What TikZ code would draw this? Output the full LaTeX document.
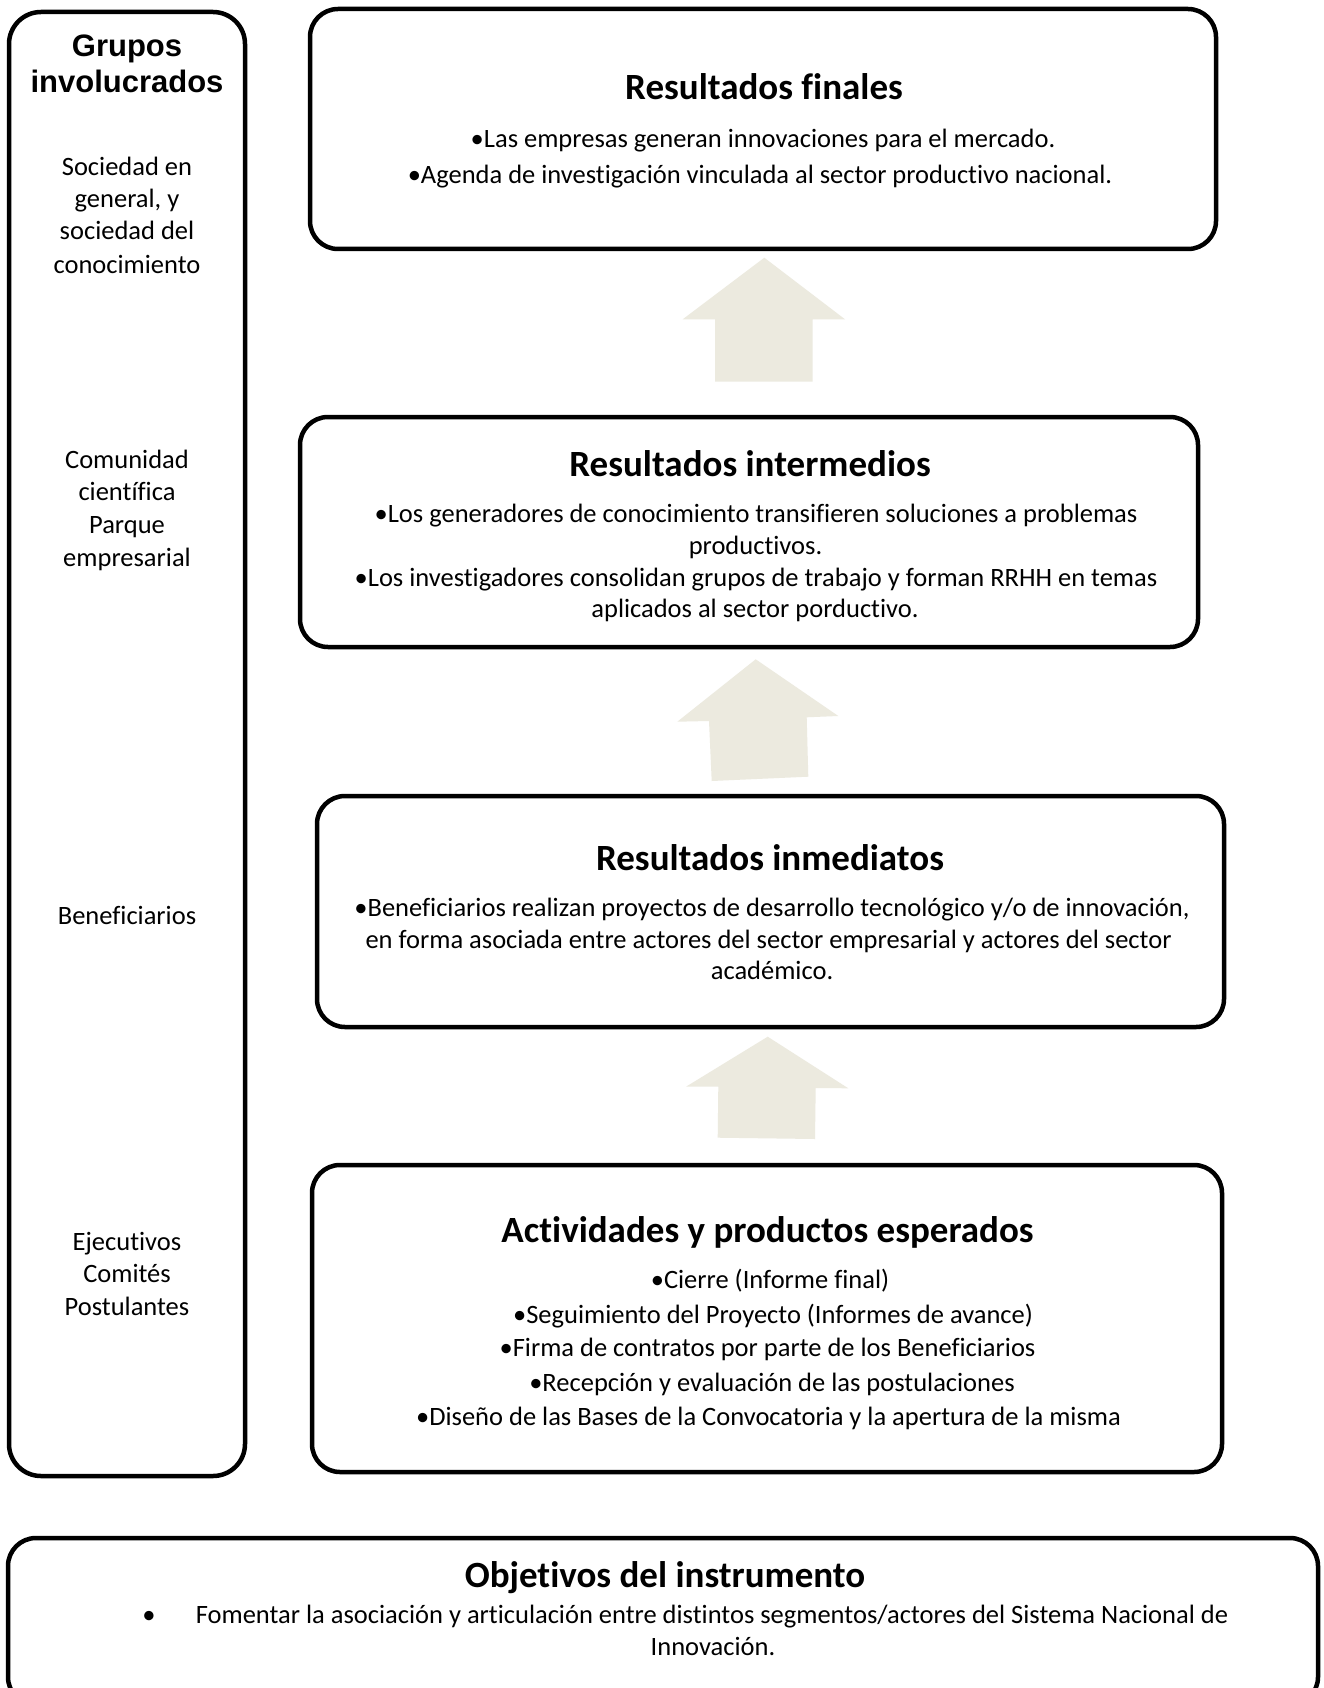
\documentclass[tikz,border=0pt]{standalone}
\usepackage{fontspec}
\setmainfont{Carlito}[Ligatures=NoCommon]
\newfontfamily\arialfont{Liberation Sans}
\definecolor{arrowfill}{RGB}{236,234,223}
\tikzset{
  box/.style={draw=black, line width=4.5pt, rounded corners=28pt, inner sep=0pt},
  txt/.style={inner sep=0pt, anchor=base, font=\fontsize{26.5}{32}\selectfont},
  ttl/.style={inner sep=0pt, anchor=base, font=\bfseries\fontsize{37}{44}\selectfont},
  grp/.style={inner sep=0pt, anchor=base, font=\arialfont\bfseries\fontsize{31}{36}\selectfont},
  uparrow/.style={fill=arrowfill, draw=none}
}
\begin{document}
\begin{tikzpicture}[x=1pt,y=-1pt]
\useasboundingbox (0,0) rectangle (1324,1688);
\fill[white] (0,0) rectangle (1324,1688);
\clip (0,0) rectangle (1324,1688);

% left column
\node[box, rounded corners=32pt, minimum width=236pt, minimum height=1464pt] (grupos) at (127,744) {};
\node[grp] (g1) at (127,57) {Grupos};
\node[grp] (g2) at (127,93) {involucrados};
\node[txt] (l1) at (127,176) {Sociedad en};
\node[txt] (l2) at (127,208) {general, y};
\node[txt] (l3) at (127,240) {sociedad del};
\node[txt] (l4) at (127,273) {conocimiento};
\node[txt] (l5) at (127,468) {Comunidad};
\node[txt] (l6) at (127,500) {científica};
\node[txt] (l7) at (127,533) {Parque};
\node[txt] (l8) at (127,566) {empresarial};
\node[txt] (l9) at (127,924) {Beneficiarios};
\node[txt] (l10) at (127,1250) {Ejecutivos};
\node[txt] (l11) at (127,1282.5) {Comités};
\node[txt] (l12) at (127,1315) {Postulantes};

% Resultados finales
\node[box, minimum width=906pt, minimum height=240pt] (fin) at (763,129) {};
\node[ttl] (fint) at (764,100) {Resultados finales};
\node[txt] (fin1) at (763,148) {•Las empresas generan innovaciones para el mercado.};
\node[txt] (fin2) at (760,183.5) {•Agenda de investigación vinculada al sector productivo nacional.};

% arrow 1
\fill[uparrow] (764.3,257.7) -- (845,319.3) -- (812.7,319.3) -- (812.7,381.7) -- (715,381.7) -- (715,319.3) -- (682.7,319.3) -- cycle;

% Resultados intermedios
\node[box, minimum width=898pt, minimum height=230pt] (inter) at (749,532) {};
\node[ttl] (intert) at (750,476) {Resultados intermedios};
\node[txt] (inter1) at (756,522.5) {•Los generadores de conocimiento transifieren soluciones a problemas};
\node[txt] (inter2) at (755.5,554) {productivos.};
\node[txt] (inter3) at (756,586) {•Los investigadores consolidan grupos de trabajo y forman RRHH en temas};
\node[txt] (inter4) at (755,617) {aplicados al sector porductivo.};

% arrow 2
\fill[uparrow] (755.7,659.3) -- (838.3,716) -- (806.7,717.3) -- (808.3,776.7) -- (711.7,781) -- (709,721) -- (677.3,721.7) -- cycle;

% Resultados inmediatos
\node[box, minimum width=907pt, minimum height=231pt] (inme) at (770.5,911.5) {};
\node[ttl] (inmet) at (770,870) {Resultados inmediatos};
\node[txt] (inme1) at (772,916.5) {•Beneficiarios realizan proyectos de desarrollo tecnológico y/o de innovación,};
\node[txt] (inme2) at (768.5,948) {en forma asociada entre actores del sector empresarial y actores del sector};
\node[txt] (inme3) at (772,979) {académico.};

% arrow 3
\fill[uparrow] (767.7,1036.7) -- (848.3,1088.3) -- (815.7,1088) -- (815,1139) -- (717.7,1137.7) -- (718.3,1086.7) -- (686,1086.7) -- cycle;

% Actividades
\node[box, minimum width=910pt, minimum height=307pt] (act) at (767,1318.5) {};
\node[ttl] (actt) at (767.5,1242) {Actividades y productos esperados};
\node[txt] (act1) at (770,1288) {•Cierre (Informe final)};
\node[txt] (act2) at (773,1323) {•Seguimiento del Proyecto (Informes de avance)};
\node[txt] (act3) at (767.5,1356) {•Firma de contratos por parte de los Beneficiarios};
\node[txt] (act4) at (772,1391) {•Recepción y evaluación de las postulaciones};
\node[txt] (act5) at (768.5,1425) {•Diseño de las Bases de la Convocatoria y la apertura de la misma};

% Objetivos
\node[box, minimum width=1310pt, minimum height=167pt] (obj) at (663,1621.5) {};
\node[ttl] (objt) at (665,1587) {Objetivos del instrumento};
\node[txt] (objb) at (149,1623) {•};
\node[txt] (obj1) at (712,1623) {Fomentar la asociación y articulación entre distintos segmentos/actores del Sistema Nacional de};
\node[txt] (obj2) at (713,1655) {Innovación.};
\end{tikzpicture}
\end{document}
